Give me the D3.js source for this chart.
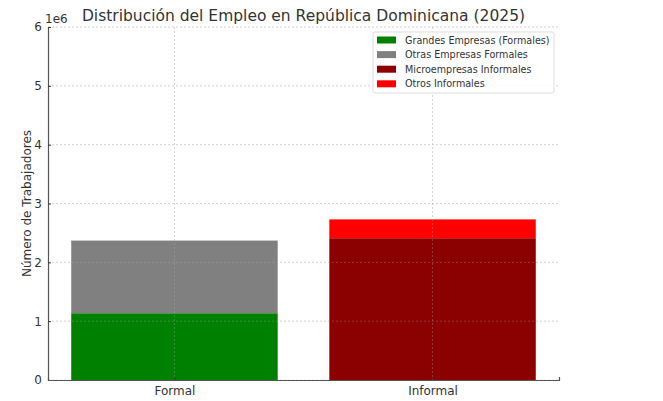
<!DOCTYPE html>
<html>
<head>
<meta charset="utf-8">
<script src="https://cdn.jsdelivr.net/npm/d3@7"></script>
<style>
  body { margin: 0; background: #fff; }
  text { font-family: "DejaVu Sans", sans-serif; fill: #333; }
</style>
</head>
<body>
<div id="chart"></div>
<script>
const categories = ["Formal", "Informal"];
const seriesNames = [
  "Grandes Empresas (Formales)",
  "Otras Empresas Formales",
  "Microempresas Informales",
  "Otros Informales",
];
const seriesColors = ["green", "gray", "darkred", "red"];
// value per series for each category (0 where not present)
const grandes = [1135000, 0];
const otrasFormales = [1235000, 0];
const microInformales = [0, 2410000];
const otrosInformales = [0, 320000];
const yTicks = [0, 1, 2, 3, 4, 5, 6];

const width = 663, height = 401;
const margin = { top: 27, right: 104, bottom: 21, left: 48 };
const innerW = width - margin.left - margin.right;
const innerH = height - margin.top - margin.bottom;

const svg = d3.select("#chart").append("svg")
  .attr("width", width).attr("height", height);
const g = svg.append("g").attr("transform", `translate(${margin.left},${margin.top})`);

const x = d3.scaleLinear().domain([-0.49, 1.49]).range([0, innerW]);
const y = d3.scaleLinear().domain([0, 6e6]).range([innerH, 0]);

// grid
g.append("g").selectAll("line").data(yTicks).enter().append("line")
  .attr("x1", 0).attr("x2", innerW)
  .attr("y1", d => y(d * 1e6)).attr("y2", d => y(d * 1e6))
  .attr("stroke", "#ccc").attr("stroke-width", 0.6).attr("stroke-dasharray", "2,2");
g.append("g").selectAll("line").data(categories).enter().append("line")
  .attr("x1", (d, i) => x(i)).attr("x2", (d, i) => x(i))
  .attr("y1", 0).attr("y2", innerH)
  .attr("stroke", "#ccc").attr("stroke-width", 0.6).attr("stroke-dasharray", "2,2");

// stacked bars
const series = [grandes, otrasFormales, microInformales, otrosInformales];
const stacks = categories.map((c, i) => {
  let base = 0;
  return series.map((s, k) => {
    const seg = { i, k, y0: base, y1: base + s[i] };
    base += s[i];
    return seg;
  }).filter(d => d.y1 > d.y0);
});
const barW = x(0.4) - x(0);
g.append("g").selectAll("rect").data(stacks.flat()).enter().append("rect")
  .attr("x", d => x(d.i) - barW)
  .attr("width", barW * 2)
  .attr("y", d => y(d.y1))
  .attr("height", d => y(d.y0) - y(d.y1))
  .attr("fill", d => seriesColors[d.k]);

// grid over bars (matplotlib draws grid above here)
g.append("g").selectAll("line").data(yTicks.slice(1)).enter().append("line")
  .attr("x1", 0).attr("x2", innerW)
  .attr("y1", d => y(d * 1e6)).attr("y2", d => y(d * 1e6))
  .attr("stroke", "#bbb").attr("stroke-width", 0.5).attr("stroke-dasharray", "2,2").attr("opacity", 0.6);
g.append("g").selectAll("line").data(categories).enter().append("line")
  .attr("x1", (d, i) => x(i)).attr("x2", (d, i) => x(i))
  .attr("y1", 0).attr("y2", innerH)
  .attr("stroke", "#bbb").attr("stroke-width", 0.5).attr("stroke-dasharray", "2,2").attr("opacity", 0.6);

// axes
const yAxis = d3.axisLeft(y).tickValues(yTicks.map(d => d * 1e6))
  .tickFormat(d => d / 1e6).tickSize(-3).tickPadding(6);
const ya = g.append("g").call(yAxis);
const xAxis = d3.axisBottom(x).tickValues([0, 1])
  .tickFormat(d => categories[d]).tickSize(-3).tickPadding(6);
const xa = g.append("g").attr("transform", `translate(0,${innerH})`).call(xAxis);
[ya, xa].forEach(a => {
  a.select(".domain").attr("stroke", "#555").attr("stroke-width", 1.2);
  a.selectAll(".tick line").attr("stroke", "#333");
  a.selectAll("text").style("font-size", "12px").style("fill", "#333")
    .style("font-family", "DejaVu Sans, sans-serif");
});

g.append("text").attr("x", -3).attr("y", -4).style("font-size", "12px").text("1e6");

// title and labels
svg.append("text")
  .attr("x", margin.left + innerW / 2).attr("y", 21)
  .attr("text-anchor", "middle").style("font-size", "15.5px")
  .text("Distribución del Empleo en República Dominicana (2025)");
svg.append("text")
  .attr("transform", `translate(31,${margin.top + innerH / 2}) rotate(-90)`)
  .attr("text-anchor", "middle").style("font-size", "12px")
  .text("Número de Trabajadores");

// legend
const lg = svg.append("g").attr("transform", "translate(373,32)");
lg.append("rect").attr("width", 181).attr("height", 61)
  .attr("fill", "#fff").attr("fill-opacity", 0.85).attr("stroke", "#ddd").attr("rx", 2);
const items = lg.selectAll("g").data(seriesNames).enter().append("g")
  .attr("transform", (d, i) => `translate(4,${4.5 + i * 14.6})`);
items.append("rect").attr("width", 19).attr("height", 7)
  .attr("fill", (d, i) => seriesColors[i]);
items.append("text").attr("x", 28).attr("y", 7).style("font-size", "9.6px").text(d => d);
</script>
</body>
</html>
